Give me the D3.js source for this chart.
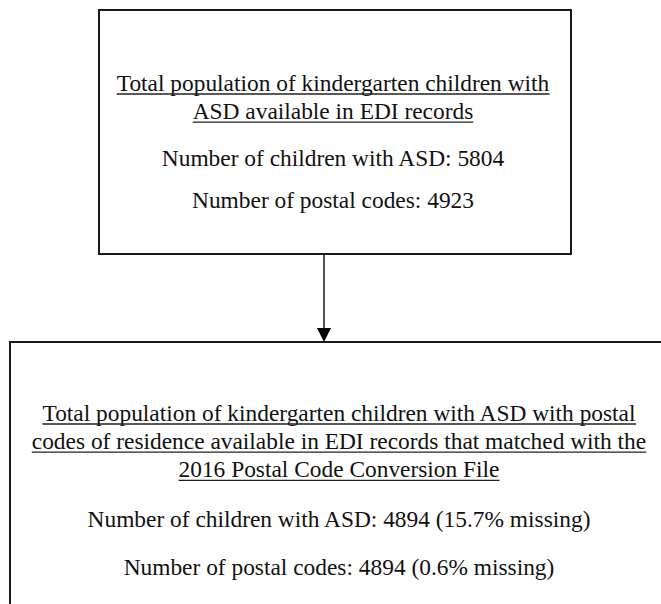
<!DOCTYPE html>
<html>
<head>
<meta charset="utf-8">
<script src="https://cdn.jsdelivr.net/npm/d3@7"></script>
<style>
  html, body { margin: 0; padding: 0; background: #fff; }
  #flow { width: 661px; height: 604px; overflow: hidden; }
  text { font-family: "Liberation Serif", "Times New Roman", serif; fill: #111; }
</style>
</head>
<body>
<div id="flow"></div>
<script>
// Flow stages
const stages = ["edi", "matched"];
const titleLines = [
  ["Total population of kindergarten children with", "ASD available in EDI records"],
  ["Total population of kindergarten children with ASD with postal",
   "codes of residence available in EDI records that matched with the",
   "2016 Postal Code Conversion File"]
];
const childCounts = [5804, 4894];
const postalCounts = [4923, 4894];
const childMissing = [null, 15.7];
const postalMissing = [null, 0.6];

function drawFlow(container) {
  d3.select(container).select('svg').remove();

  const width = 661;
  const height = 604;
  const fontSize = 23.4;

  const svg = d3.select(container)
    .append("svg")
      .attr("width", width)
      .attr("height", height);

  // box geometry for each stage
  const boxX = d3.scaleOrdinal().domain(stages).range([99, 10]);
  const boxW = d3.scaleOrdinal().domain(stages).range([472, 660]);
  const boxY = d3.scaleOrdinal().domain(stages).range([10, 342]);
  const boxH = d3.scaleOrdinal().domain(stages).range([244, 300]);
  // first title baseline offset, title line step, number offsets
  const titleTop = d3.scaleOrdinal().domain(stages).range([80.5, 78.5]);
  const lineStep = 28.2;
  const numGap = d3.scaleOrdinal().domain(stages).range([47, 50]);
  const numStep = d3.scaleOrdinal().domain(stages).range([42.5, 48]);

  const fmtLine = (label, v, miss) =>
    `${label}: ${v}` + (miss == null ? "" : ` (${miss}% missing)`);

  stages.forEach((s, i) => {
    const g = svg.append("g").attr("class", "stage");
    g.append("rect")
      .attr("x", boxX(s))
      .attr("y", boxY(s))
      .attr("width", boxW(s))
      .attr("height", boxH(s))
      .attr("fill", "none")
      .attr("stroke", "#1a1a1a")
      .attr("stroke-width", 2);

    const cx = i === 0 ? boxX(s) + boxW(s) / 2 - 2 : 339;
    const lines = titleLines[i];
    lines.forEach((t, j) => {
      const y = boxY(s) + titleTop(s) + j * lineStep;
      const txt = g.append("text")
        .attr("x", cx)
        .attr("y", y)
        .attr("text-anchor", "middle")
        .attr("font-size", fontSize)
        .text(t);
      const bb = txt.node().getBBox();
      g.append("line")
        .attr("x1", bb.x)
        .attr("x2", bb.x + bb.width)
        .attr("y1", y + 3.5)
        .attr("y2", y + 3.5)
        .attr("stroke", "#222")
        .attr("stroke-width", 1.3);
    });

    const lastTitle = boxY(s) + titleTop(s) + (lines.length - 1) * lineStep;
    const n1 = lastTitle + numGap(s);
    g.append("text")
      .attr("x", cx)
      .attr("y", n1)
      .attr("text-anchor", "middle")
      .attr("font-size", fontSize)
      .text(fmtLine("Number of children with ASD", childCounts[i], childMissing[i]));
    g.append("text")
      .attr("x", cx)
      .attr("y", n1 + numStep(s))
      .attr("text-anchor", "middle")
      .attr("font-size", fontSize)
      .text(fmtLine("Number of postal codes", postalCounts[i], postalMissing[i]));
  });

  // arrow between stages
  const arrowX = 324;
  const y0 = boxY(stages[0]) + boxH(stages[0]);
  const y1 = boxY(stages[1]);
  svg.append("line")
    .attr("x1", arrowX).attr("x2", arrowX)
    .attr("y1", y0).attr("y2", y1 - 12)
    .attr("stroke", "#1a1a1a")
    .attr("stroke-width", 1.5);
  svg.append("path")
    .attr("d", d3.line()([[arrowX - 7, y1 - 14], [arrowX + 7, y1 - 14], [arrowX, y1]]))
    .attr("fill", "#000");
}

document.addEventListener('DOMContentLoaded', function() {
  drawFlow(document.getElementById('flow'));
});
</script>
</body>
</html>
